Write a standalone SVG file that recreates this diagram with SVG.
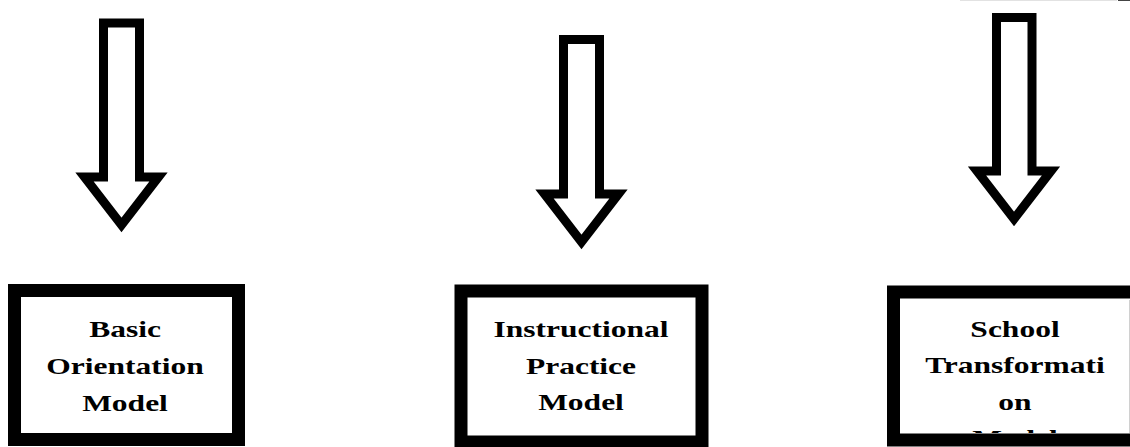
<svg xmlns="http://www.w3.org/2000/svg" width="1130" height="447" viewBox="0 0 1130 447">
  <style>
    .arrow { fill: #fff; stroke: #000; stroke-width: 9; stroke-linejoin: miter; stroke-miterlimit: 10; }
    .box { fill: #fff; stroke: #000; stroke-width: 13; }
    .lbl { font-family: "Liberation Serif", "Times New Roman", serif; font-weight: bold; font-size: 23px; fill: #000; text-anchor: middle; }
  </style>
  <defs>
    <clipPath id="clip3">
      <rect x="-200" y="299" width="400" height="134"/>
    </clipPath>
  </defs>
  <rect width="1130" height="447" fill="#fff"/>
  <line x1="960" y1="0.5" x2="1117" y2="0.5" stroke="#e2e2e2" stroke-width="1"/>
  <line x1="1118" y1="0.5" x2="1130" y2="0.5" stroke="#444" stroke-width="1"/>

  <g id="connectors">
    <polygon class="arrow" points="103.5,23 139.5,23 139.5,177 158.5,177 121.5,225 84.5,177 103.5,177"/>
    <polygon class="arrow" points="563.5,39.5 599.5,39.5 599.5,194 618.5,194 581.5,242 544.5,194 563.5,194"/>
    <polygon class="arrow" points="996.5,17.5 1032,17.5 1032,171 1051,171 1014,219 977,171 996.5,171"/>
  </g>

  <g id="basic-orientation-model">
    <rect class="box" x="14.5" y="290.5" width="224" height="149"/>
    <g transform="matrix(1.37 0 0 1 125 0)">
      <text class="lbl" x="0" y="337">Basic</text>
      <text class="lbl" x="0" y="374">Orientation</text>
      <text class="lbl" x="0" y="411">Model</text>
    </g>
  </g>

  <g id="instructional-practice-model">
    <rect class="box" x="461" y="291" width="241" height="151"/>
    <g transform="matrix(1.37 0 0 1 581 0)">
      <text class="lbl" x="0" y="337">Instructional</text>
      <text class="lbl" x="0" y="374">Practice</text>
      <text class="lbl" x="0" y="410">Model</text>
    </g>
  </g>

  <g id="school-transformation-model">
    <rect class="box" x="893.5" y="292" width="260" height="148"/>
    <line x1="1129.5" y1="300" x2="1129.5" y2="433" stroke="#d0d0d0" stroke-width="1"/>
    <g transform="matrix(1.37 0 0 1 1015 0)">
      <text class="lbl" x="0" y="337">School</text>
      <text class="lbl" x="0" y="373">Transformati</text>
      <text class="lbl" x="0" y="410">on</text>
      <text class="lbl" x="0" y="446" clip-path="url(#clip3)">Model</text>
    </g>
  </g>
</svg>
